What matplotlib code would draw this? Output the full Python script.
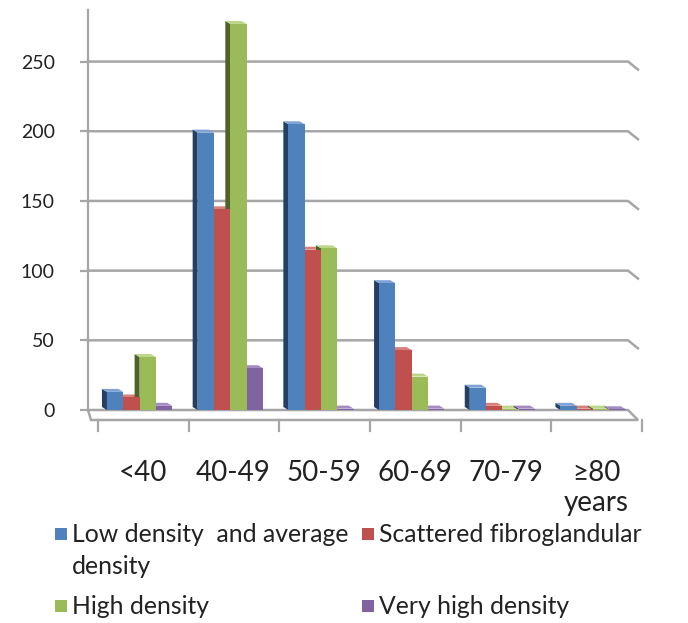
import matplotlib.pyplot as plt
from matplotlib.patches import Polygon, Rectangle

plt.rcParams['font.family'] = ['Lato', 'DejaVu Sans']

categories = ['<40', '40-49', '50-59', '60-69', '70-79', '≥80\nyears']
series = ['Low density  and average\ndensity', 'Scattered fibroglandular',
          'High density', 'Very high density']
low_avg = [13, 199, 205, 91, 16, 3]
scattered = [9, 144, 115, 43, 3, 1]
high = [38, 277, 116, 24, 1, 1]
very_high = [3, 30, 1, 1, 1, 0.5]
values = [low_avg, scattered, high, very_high]

front = ['#4F81BD', '#C0504D', '#9BBB59', '#8064A2']
side = ['#233F63', '#7E302E', '#4F6228', '#4A3763']
top = ['#7FA3D6', '#D9807D', '#BCD68A', '#A58BC4']
grid_c = '#A6A6A6'

W, H = 688, 623
fig = plt.figure(figsize=(W / 100, H / 100), dpi=100)
ax = fig.add_axes([88 / W, 213 / H, 548 / W, 400 / H])
x0, x1 = -0.555, -0.555 + 548 / 90.7
ax.set_xlim(x0, x1)
ax.set_ylim(0, 287)
px = (x1 - x0) / 548      # data units per pixel (x)
py = 287 / 400            # data units per pixel (y)

for s in ['top', 'right', 'bottom']:
    ax.spines[s].set_visible(False)
ax.spines['left'].set_color(grid_c)
ax.spines['left'].set_linewidth(1.6)

ax.set_yticks([0, 50, 100, 150, 200, 250])
ax.tick_params(axis='y', length=6, width=1.6, color=grid_c, pad=18,
               labelsize=14, labelcolor='#222222')
ax.set_xticks([k + 0.05 for k in range(len(categories))])
ax.set_xticklabels(categories, fontsize=20, color='#222222', linespacing=1.2)
ax.tick_params(axis='x', length=0, pad=36)

# back-wall gridlines with a short slant on the right side wall
xr = x0 + 540 * px
for v in [50, 100, 150, 200, 250]:
    ax.plot([x0, xr, xr + 10 * px], [v, v, v - 8 * py], color=grid_c,
            lw=1.8, clip_on=False, zorder=1)

# floor
floor = Polygon([(x0, 0), (xr, 0), (xr + 10 * px, -10 * py),
                 (x0 + 3 * px, -10 * py)], closed=True, facecolor='white',
                edgecolor=grid_c, lw=1.8, clip_on=False, zorder=1)
ax.add_patch(floor)
for k in range(len(categories) + 1):
    bx = k - 0.5 + 5 * px
    ax.plot([bx, bx], [-10 * py, -21 * py], color=grid_c, lw=1.6,
            clip_on=False, zorder=1)

# 3D-looking bars
bw = 0.18
dx, dy = 5 * px, 3 * py
for j, vals in enumerate(values):
    for k, v in enumerate(vals):
        left = k - 0.346 + j * bw
        ax.add_patch(Polygon([(left, 0), (left, v), (left - dx, v + dy),
                              (left - dx, dy)], closed=True,
                             facecolor=side[j], lw=0, zorder=2))
        ax.add_patch(Polygon([(left, v), (left + bw, v),
                              (left + bw - dx, v + dy), (left - dx, v + dy)],
                             closed=True, facecolor=top[j], lw=0, zorder=2))
    ax.bar([k - 0.346 + j * bw for k in range(len(vals))], vals, width=bw,
           align='edge', color=front[j], zorder=3)

# legend
leg_pos = [(55, 534), (362, 534), (55, 606), (362, 606)]
for j, (lx, ly) in enumerate(leg_pos):
    fig.patches.append(Rectangle((lx / W, 1 - (ly + 6) / H), 12 / W, 12 / H,
                                 transform=fig.transFigure,
                                 facecolor=front[j], lw=0))
    fig.text((lx + 17) / W, 1 - ly / H, series[j].split('\n')[0],
             fontsize=17.8, va='center', ha='left', color='#222222')
    if '\n' in series[j]:
        fig.text((lx + 17) / W, 1 - (ly + 33) / H, series[j].split('\n')[1],
                 fontsize=17.8, va='center', ha='left', color='#222222')

fig.savefig('out.png', dpi=100)
